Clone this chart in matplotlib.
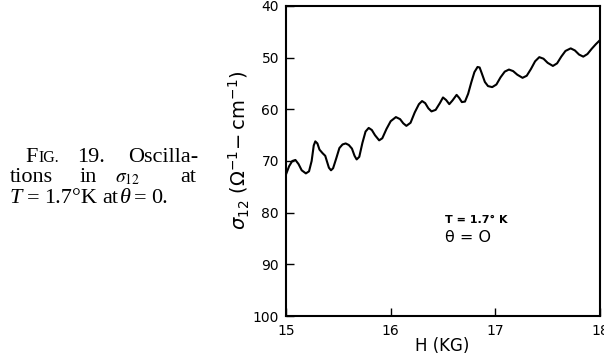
import matplotlib
matplotlib.use("Agg")
import matplotlib.pyplot as plt

# ---- data ----
field_kg = [15.00, 15.03, 15.06, 15.09, 15.12, 15.15, 15.19, 15.22, 15.245, 15.265,
            15.28, 15.30, 15.32, 15.35, 15.375, 15.39, 15.41, 15.43, 15.45, 15.48,
            15.51, 15.54, 15.57, 15.60, 15.63, 15.655, 15.675, 15.70, 15.73, 15.76,
            15.79, 15.82, 15.85, 15.89, 15.92, 15.96, 16.00, 16.05, 16.09, 16.12,
            16.15, 16.19, 16.23, 16.27, 16.30, 16.33, 16.36, 16.39, 16.43, 16.47,
            16.50, 16.53, 16.56, 16.59, 16.63, 16.655, 16.68, 16.71, 16.74, 16.77,
            16.80, 16.83, 16.85, 16.87, 16.90, 16.93, 16.97, 17.01, 17.05, 17.09,
            17.13, 17.17, 17.21, 17.26, 17.30, 17.34, 17.38, 17.42, 17.46, 17.50,
            17.55, 17.59, 17.63, 17.67, 17.72, 17.76, 17.80, 17.84, 17.88, 17.92,
            17.96, 18.00]
sigma12 = [72.6, 71.0, 70.0, 69.8, 70.6, 71.8, 72.4, 72.0, 70.0, 67.0,
           66.2, 66.6, 67.8, 68.5, 69.0, 70.0, 71.3, 71.8, 71.4, 69.5,
           67.5, 66.8, 66.6, 66.9, 67.6, 69.0, 69.7, 69.2, 66.5, 64.3,
           63.6, 64.0, 65.0, 66.0, 65.6, 63.8, 62.3, 61.5, 61.9, 62.7,
           63.2, 62.6, 60.6, 59.0, 58.4, 58.8, 59.8, 60.4, 60.1, 58.8,
           57.7, 58.2, 59.0, 58.3, 57.2, 57.8, 58.6, 58.5, 57.0, 54.8,
           52.8, 51.8, 51.9, 53.0, 54.7, 55.5, 55.7, 55.2, 53.8, 52.7,
           52.3, 52.6, 53.3, 53.9, 53.5, 52.2, 50.7, 49.9, 50.2, 51.0,
           51.6, 51.1, 49.8, 48.7, 48.2, 48.6, 49.4, 49.8, 49.3, 48.3,
           47.4, 46.6]
x_ticks = [15, 16, 17, 18]
y_ticks = [40, 50, 60, 70, 80, 90, 100]

W, H = 604, 356
fig = plt.figure(figsize=(W / 100, H / 100), dpi=100)
fig.patch.set_facecolor("white")

def fx(px):
    return px / W

def fy(py):
    return 1 - py / H

ax = fig.add_axes([fx(286), fy(316), (600 - 286) / W, (316 - 6) / H])
ax.plot(field_kg, sigma12, color="black", lw=1.5, solid_joinstyle="round")
ax.set_xlim(15, 18)
ax.set_ylim(100, 40)
ax.set_xticks(x_ticks)
ax.set_xticklabels([str(t) for t in x_ticks])
ax.set_yticks(y_ticks)
ax.set_yticklabels([str(t) for t in y_ticks])
ax.tick_params(direction="in", length=6, width=1, labelsize=10, pad=5)
ax.tick_params(axis="x", pad=6)
for s in ax.spines.values():
    s.set_linewidth(1.5)

fig.text(fx(442), fy(351), "H (KG)", fontsize=12, ha="center", va="baseline")
fig.text(fx(239), fy(150), r"$\sigma_{12}\ (\Omega^{-1}\!-\mathrm{cm}^{-1})$",
         rotation=90, fontsize=14, ha="center", va="center")

ax.text(16.52, 81.5, "T = 1.7° K", fontsize=8, fontweight="bold", va="center")
ax.text(16.52, 84.8, "θ = O", fontsize=11.5, va="center")

# ---- caption ----
serif = "Liberation Serif"
def cap(px, py, s, size=16, style="normal"):
    fig.text(fx(px), fy(py), s, fontsize=size, family=serif, style=style,
             va="baseline", ha="left")

cap(25, 162, "F")
cap(38, 162, "IG.", size=11.5)
cap(77, 162, "19.")
cap(128, 162, "Oscilla-")
cap(10, 182, "tions")
cap(80, 182, "in")
fig.text(fx(115), fy(182), r"$\sigma_{12}$", fontsize=14, va="baseline", ha="left",
         math_fontfamily="stix")
cap(180, 182, "at")
cap(10, 203, "T", style="italic")
cap(27, 203, "=")
cap(44, 203, "1.7°K")
cap(102, 203, "at")
cap(120, 203, "θ", style="italic")
cap(134, 203, "=")
cap(151, 203, "0.")

fig.savefig("out.png", dpi=100, facecolor="white")
